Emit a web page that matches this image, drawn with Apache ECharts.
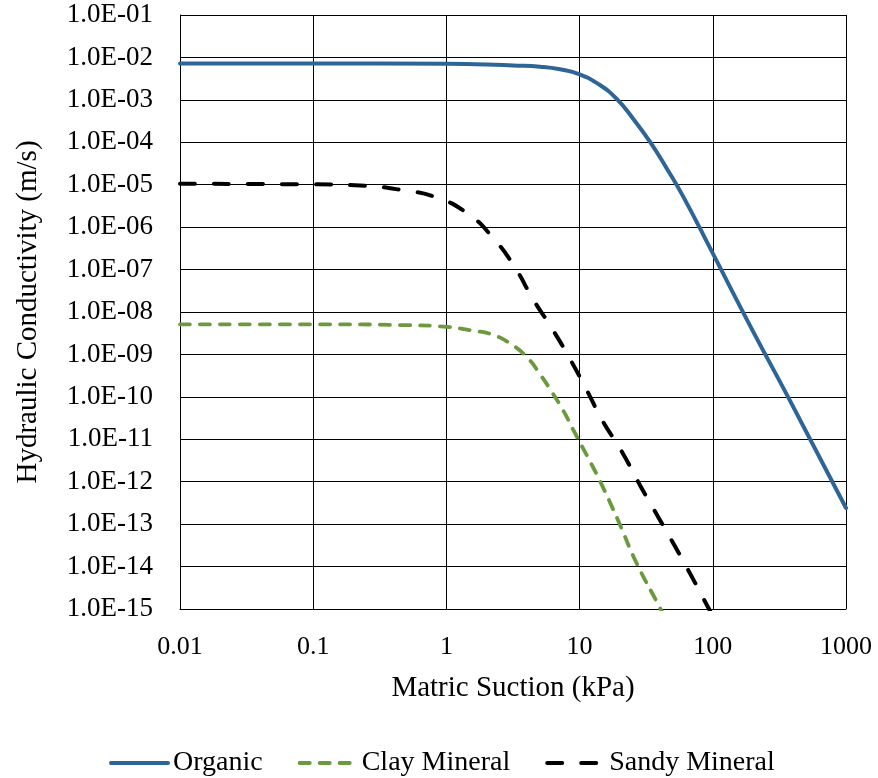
<!DOCTYPE html>
<html>
<head>
<meta charset="utf-8">
<script src="https://cdn.jsdelivr.net/npm/echarts@6/dist/echarts.min.js"></script>
<style>
html,body{margin:0;padding:0;background:#fff;}
#chart{width:878px;height:778px;}
</style>
</head>
<body>
<div id="chart"></div>
<script>
// Matric suction (kPa) and hydraulic conductivity (m/s)
const organicX = [0.01, 0.1, 1, 2, 3.16, 5.05, 7.13, 10, 14.2, 19, 25.3, 33.8, 45, 60, 100, 200, 367, 1000];
const organicK = [7.24e-3, 7.24e-3, 7.08e-3, 6.84e-3, 6.46e-3, 6.03e-3, 5.25e-3, 3.98e-3, 2.24e-3, 1.05e-3, 3.55e-4, 1.02e-4, 2.45e-5, 5.25e-6, 2.4e-7, 3.55e-9, 1.0e-10, 2.4e-13];

const clayX = [0.01, 0.1, 0.5, 1.0, 1.59, 2.25, 3.0, 4.01, 5.05, 6.17, 7.5, 8.9, 10, 11.97, 14.2, 19.5, 26.8, 40.2, 45];
const clayK = [5.13e-9, 5.13e-9, 4.9e-9, 4.47e-9, 3.63e-9, 2.88e-9, 1.82e-9, 8.7e-10, 3.4e-10, 1.32e-10, 4.9e-11, 1.74e-11, 8.7e-12, 3.0e-12, 1.05e-12, 1.2e-13, 1.2e-14, 1.05e-15, 5.0e-16];

const sandyX = [0.01, 0.1, 0.248, 0.461, 0.83, 1.44, 2.25, 3.27, 4.47, 6.17, 8.47, 11.3, 15, 20.7, 28.4, 38.8, 52, 69.5, 90, 100];
const sandyK = [1.05e-5, 1.02e-5, 9.4e-6, 7.5e-6, 5.1e-6, 2.1e-6, 5.5e-7, 1.12e-7, 2.0e-8, 4.2e-9, 7.8e-10, 1.45e-10, 2.6e-11, 5.2e-12, 8.3e-13, 1.5e-13, 3.0e-14, 5.8e-15, 1.26e-15, 6.9e-16];

const seriesNames = ['Organic', 'Clay Mineral', 'Sandy Mineral'];
const xTitle = 'Matric Suction (kPa)';
const yTitle = 'Hydraulic Conductivity (m/s)';

function pairs(xs, ys) { return xs.map((x, i) => [x, ys[i]]); }
const FONT = '"Liberation Serif", "Times New Roman", serif';

function expOf(v) { return Math.round(Math.log(v) / Math.LN10); }
function xLabel(v) {
  const e = expOf(v);
  return e < 0 ? Math.pow(10, e).toFixed(-e) : String(Math.pow(10, e));
}
function yLabel(v) {
  const e = expOf(v);
  const a = Math.abs(e);
  return '1.0E' + (e < 0 ? '-' : '+') + (a < 10 ? '0' + a : String(a));
}

const chart = echarts.init(document.getElementById('chart'), null, {renderer: 'canvas'});
chart.setOption({
  animation: false,
  backgroundColor: '#fff',
  textStyle: {fontFamily: FONT, color: '#000'},
  grid: {left: 180, right: 32, top: 15, bottom: 169, containLabel: false},
  legend: {
    data: seriesNames,
    left: 104,
    top: 744,
    itemWidth: 57,
    itemHeight: 14,
    itemGap: 35,
    itemStyle: {opacity: 0},
    lineStyle: {width: 4},
    textStyle: {fontFamily: FONT, fontSize: 28, color: '#000'}
  },
  xAxis: {
    type: 'log',
    logBase: 10,
    min: 0.01,
    max: 1000,
    splitNumber: 5,
    name: xTitle,
    nameLocation: 'middle',
    nameGap: 65,
    nameTextStyle: {fontFamily: FONT, fontSize: 29, color: '#000'},
    axisLine: {show: true, lineStyle: {color: '#000', width: 1}},
    axisTick: {show: false},
    axisLabel: {formatter: xLabel, fontFamily: FONT, fontSize: 26, color: '#000', margin: 25},
    splitLine: {show: true, lineStyle: {color: '#000', width: 1}},
    minorTick: {show: false},
    minorSplitLine: {show: false}
  },
  yAxis: {
    type: 'log',
    logBase: 10,
    min: 1e-15,
    max: 1e-1,
    interval: 1,
    splitNumber: 14,
    name: yTitle,
    nameLocation: 'middle',
    nameGap: 137,
    nameTextStyle: {fontFamily: FONT, fontSize: 29, color: '#000'},
    axisLine: {show: true, lineStyle: {color: '#000', width: 1}},
    axisTick: {show: false},
    axisLabel: {formatter: yLabel, fontFamily: FONT, fontSize: 27, color: '#000', margin: 27},
    splitLine: {show: true, lineStyle: {color: '#000', width: 1}}
  },
  series: [
    {
      name: seriesNames[0], type: 'line', data: pairs(organicX, organicK),
      smooth: 0.5, symbol: 'none', clip: true,
      lineStyle: {color: '#2e6597', width: 4, cap: 'round'},
      itemStyle: {color: '#2e6597'}
    },
    {
      name: seriesNames[1], type: 'line', data: pairs(clayX, clayK),
      smooth: 0.5, symbol: 'none', clip: true,
      lineStyle: {color: '#6b9a3e', width: 3.8, type: [10, 10], cap: 'round'},
      itemStyle: {color: '#6b9a3e'}
    },
    {
      name: seriesNames[2], type: 'line', data: pairs(sandyX, sandyK),
      smooth: 0.5, symbol: 'none', clip: true,
      lineStyle: {color: '#000', width: 4, type: [15, 19], cap: 'round'},
      itemStyle: {color: '#000'}
    }
  ]
});
</script>
</body>
</html>
